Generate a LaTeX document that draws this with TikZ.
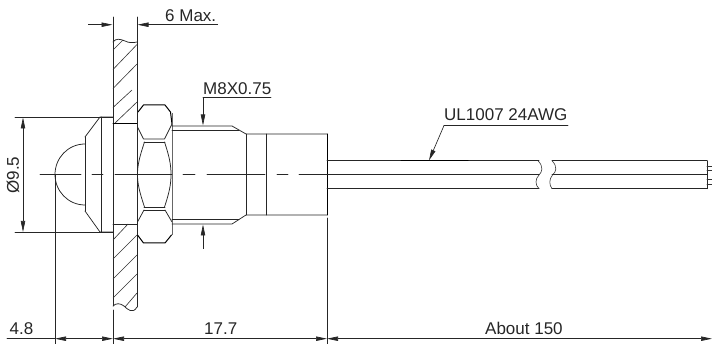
\documentclass[tikz,border=0pt]{standalone}
\usepackage{fontspec}
\setmainfont{Liberation Sans}
\usetikzlibrary{arrows.meta}
\tikzset{
  x=1pt,y=-1pt,
  ln/.style={line width=0.75pt,black!85,line cap=round,line join=round},
  thick line/.style={line width=1pt,black,line cap=round,line join=round},
  thin line/.style={line width=0.6pt,black!80,line cap=round},
  dim/.style={line width=0.65pt,black!85,-{Stealth[length=11pt,width=4.4pt,inset=0pt]}},
  lab/.style={font=\fontsize{17pt}{19pt}\selectfont,inner sep=0pt,text=black!85},
}
\begin{document}
\begin{tikzpicture}
\useasboundingbox (0,0) rectangle (712,344);
% wall
\draw[ln] (113,41) -- (113,306) (137,42) -- (137,102);
\draw[ln] (137,235) -- (137,307);
\draw[ln] (113,42) .. controls (116,38) and (120,39) .. (125,41) .. controls (129,43) and (133,43) .. (137,42);
\draw[ln] (113,306) .. controls (116,303) and (120,303) .. (124,306) .. controls (128,310) and (133,314) .. (137,307);
\foreach \a/\b/\c/\d in {113/50/123/40, 113/69.5/137/44.5, 113/88.5/137/64, 113/107.5/132/90, 114/124/137/102, 113/240/128/224, 113/259/137/235, 113/279/137/255, 113/298/137/274, 125/307/137/293}
  \draw[thin line] (\a,\b) -- (\c,\d);
\draw[thick line] (113,124) -- (137,124);
\draw[ln] (113,224) -- (137,224);
% flange and dome
\draw[ln] (85,137) -- (100,117) -- (113,117);
\draw[ln] (85,211) -- (100,232) -- (113,232);
\draw[ln] (101,117) -- (101,232);
\draw[ln] (85,137) -- (85,211);
\draw[ln] (85,144) .. controls (68,144) and (55,158) .. (55,174.5) .. controls (55,191) and (68,205) .. (85,205);
% nut
\draw[thick line] (138,112) -- (143.5,105) -- (165,105) -- (170.5,112) -- (172,124);
\draw[ln] (137.5,127) -- (143.5,139) -- (164.5,139) -- (172,124);
\draw[ln] (144,142) -- (165,142);
\draw[ln] (144.5,142) .. controls (139.5,157) and (137.5,165) .. (137.5,174.5) .. controls (137.5,184) and (139.5,192) .. (144.5,207);
\draw[ln] (164.5,142) .. controls (169.5,157) and (171,165) .. (171,174.5) .. controls (171,184) and (169.5,192) .. (164.5,207);
\draw[ln] (144,207) -- (165,207) (144,210) -- (165,210);
\draw[thick line] (137.5,235) -- (143.5,243) -- (165,243) -- (171.5,235);
\draw[ln] (144,210) -- (137.5,222) (165,210) -- (172,222);
\draw[ln] (137,102) -- (137,235);
\draw[line width=0.75pt,black!60] (172,113) -- (172,235);
% thread and body
\draw[ln] (172,126) -- (232,126) -- (246,134) -- (327,134);
\draw[ln] (172,130) -- (239,130);
\draw[ln] (172,224) -- (232,224) -- (246,215) -- (327,215);
\draw[ln] (172,219.5) -- (239,219.5);
\draw[ln] (246,134) -- (246,215);
\draw[ln] (266.5,134) -- (266.5,215);
\draw[thick line] (327,134) -- (327,215);
% centre line
\foreach \a/\b in {40/81, 92/103, 115/172, 183/195, 207/265, 277/288, 299/340}
  \draw[ln] (\a,174.5) -- (\b,174.5);
% wire
\foreach \y in {160.7,174.7,188.7}
  \draw[ln] (327,\y) -- (539,\y) (552,\y) -- (707,\y);
\draw[thick line] (401,160.7) -- (468,160.7);
\draw[thin line] (538,160.7) .. controls (544,167) and (542,172) .. (539,175) .. controls (535,179) and (535,185) .. (539,188.7);
\draw[thin line] (552,160.7) .. controls (558,167) and (556,172) .. (552.5,175) .. controls (549,179) and (549,185) .. (552,188.7);
\draw[ln] (707,160.7) -- (707,188.7);
\foreach \y in {166,170.5,179.5,184}
  \draw[thin line] (707,\y) -- (712,\y);
% extension lines
\draw[ln] (113,17) -- (113,41) (137,17) -- (137,42);
\draw[ln] (15,117) -- (113,117) (15,232) -- (113,232);
\draw[ln] (55,174.5) -- (55,344);
\draw[ln] (113,310) -- (113,344);
\draw[ln] (327,218) -- (327,344);
% dimensions
\coordinate (six1) at (88,24.7); \coordinate (six2) at (112.5,24.7);
\coordinate (six3) at (218,24.7); \coordinate (six4) at (137.5,24.7);
\draw[dim] (six1) -- (six2);
\draw[dim] (six3) -- (six4);
\node[lab,anchor=base west] (tsix) at (165,21.7) {6 Max.};
\coordinate (dia1) at (23,175); \coordinate (dia2) at (23,117.5); \coordinate (dia3) at (23,232);
\draw[dim] (dia1) -- (dia2);
\draw[dim] (dia1) -- (dia3);
\node[lab,rotate=90,anchor=base] (tdia) at (19,175) {Ø9.5};
\coordinate (m1) at (271,97.7); \coordinate (m2) at (203,97.7); \coordinate (m3) at (203,125.5); \coordinate (m4) at (203,249); \coordinate (m5) at (203,224.5);
\draw[ln] (m1) -- (m2);
\draw[dim] (m2) -- (m3);
\draw[dim] (m4) -- (m5);
\node[lab,anchor=base west] (tm) at (203,95) {M8X0.75};
\coordinate (u1) at (568,125.5); \coordinate (u2) at (444,125.5); \coordinate (u3) at (429,160.5);
\draw[ln] (u1) -- (u2);
\draw[dim] (u2) -- (u3);
\node[lab,anchor=base west] (tu) at (444,120.7) {UL1007 24AWG};
% bottom row
\coordinate (b0) at (7,338.7); \coordinate (b1) at (55,338.7); \coordinate (b2) at (113,338.7); \coordinate (b3) at (327,338.7); \coordinate (b4) at (712,338.7); \coordinate (b12) at (84,338.7); \coordinate (b23) at (220,338.7); \coordinate (b34) at (517,338.7);
\draw[ln] (b0) -- (b1);
\draw[dim] (b12) -- (b1); \draw[dim] (b12) -- (b2);
\draw[dim] (b23) -- (b2); \draw[dim] (b23) -- (b3);
\draw[dim] (b34) -- (b3);
\draw[dim] (b34) -- (b4);
\node[lab,anchor=base west] (t48) at (9.5,334.7) {4.8};
\node[lab,anchor=base west] (t177) at (204,334.7) {17.7};
\node[lab,anchor=base west] (t150) at (485,335) {About 150};
\end{tikzpicture}
\end{document}
